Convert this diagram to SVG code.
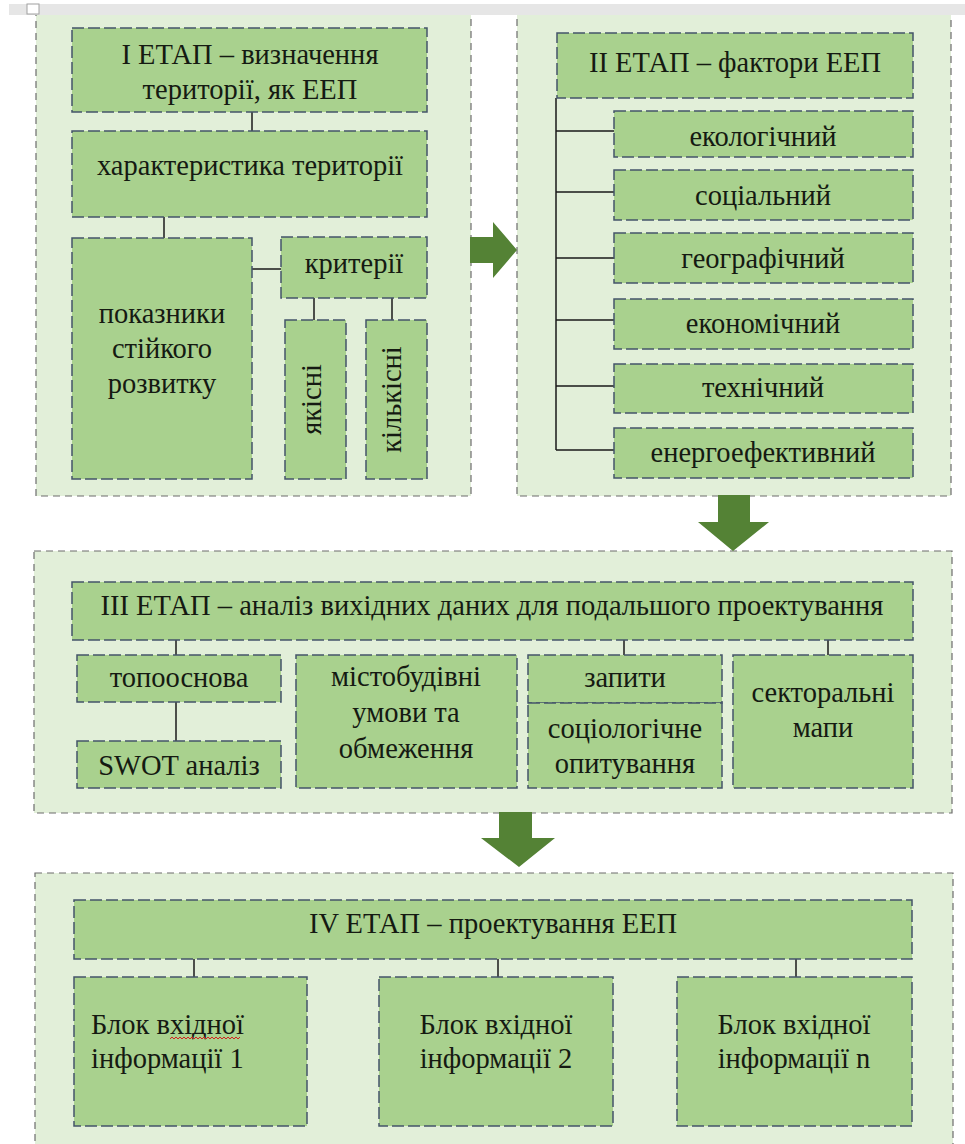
<svg xmlns="http://www.w3.org/2000/svg" width="965" height="1144" viewBox="0 0 965 1144">
  <style>
    .panel { fill:#e2efd9; stroke:#6d6d6d; stroke-width:1.2; stroke-dasharray:7 5; }
    .box { fill:#a9d18e; stroke:#44546a; stroke-width:1.5; stroke-dasharray:12 4; }
    .t { font-family:"Liberation Serif", "DejaVu Serif", serif; font-size:28.5px; fill:#151a12; text-anchor:middle; }
    .tl { text-anchor:start; }
    .link { stroke:#1a1a1a; stroke-width:1.5; fill:none; }
    .arrow { fill:#548235; }
  </style>
  <rect x="0" y="0" width="965" height="1144" fill="#ffffff"/>

  <!-- stage containers -->
  <g id="panel-stage1"><rect class="panel" x="36" y="10" width="435" height="486"/></g>
  <g id="panel-stage2"><rect class="panel" x="517" y="10" width="434" height="486"/></g>
  <g id="panel-stage3"><rect class="panel" x="34" y="551" width="918" height="262"/></g>
  <g id="panel-stage4"><rect class="panel" x="35" y="873" width="918" height="290"/></g>

  <!-- page strip at the top -->
  <rect x="9" y="4" width="956" height="11" fill="#e6e6e6"/>
  <rect x="27" y="4" width="12" height="10" fill="#ffffff" stroke="#a0a0a0" stroke-width="1"/>

  <!-- connectors -->
  <g id="connectors">
    <line class="link" x1="252" y1="112" x2="252" y2="131"/>
    <line class="link" x1="164" y1="217" x2="164" y2="238"/>
    <line class="link" x1="252" y1="269" x2="281" y2="269"/>
    <line class="link" x1="314" y1="298" x2="314" y2="320"/>
    <line class="link" x1="392" y1="298" x2="392" y2="320"/>
    <path class="link" d="M556 98 V450 M556 131 H614 M556 192 H614 M556 258 H614 M556 320 H614 M556 386 H614 M556 450 H614"/>
    <line class="link" x1="176" y1="640" x2="176" y2="655"/>
    <line class="link" x1="176" y1="702" x2="176" y2="741"/>
    <line class="link" x1="624" y1="640" x2="624" y2="655"/>
    <line class="link" x1="828" y1="640" x2="828" y2="666"/>
    <line class="link" x1="194" y1="959" x2="194" y2="977"/>
    <line class="link" x1="498" y1="959" x2="498" y2="977"/>
    <line class="link" x1="796" y1="959" x2="796" y2="977"/>
  </g>

  <!-- stage 1 -->
  <g id="stage1-title">
    <rect class="box" x="72" y="28" width="355" height="84"/>
    <text class="t" x="250" y="64">I ЕТАП – визначення</text>
    <text class="t" x="250" y="99">території, як ЕЕП</text>
  </g>
  <g id="territory">
    <rect class="box" x="72" y="131" width="355" height="86"/>
    <text class="t" x="250" y="175">характеристика території</text>
  </g>
  <g id="indicators">
    <rect class="box" x="72" y="238" width="180" height="241"/>
    <text class="t" x="162" y="323">показники</text>
    <text class="t" x="162" y="358">стійкого</text>
    <text class="t" x="162" y="393">розвитку</text>
  </g>
  <g id="criteria">
    <rect class="box" x="281" y="237" width="146" height="61"/>
    <text class="t" x="354" y="273">критерії</text>
  </g>
  <g id="qualitative">
    <rect class="box" x="285" y="320" width="61" height="159"/>
    <text class="t" transform="translate(321 399.5) rotate(-90)" x="0" y="0">якісні</text>
  </g>
  <g id="quantitative">
    <rect class="box" x="366" y="320" width="61" height="159"/>
    <text class="t" transform="translate(401 399.5) rotate(-90)" x="0" y="0">кількісні</text>
  </g>

  <!-- stage 2 -->
  <g id="stage2-title">
    <rect class="box" x="557" y="33" width="356" height="65"/>
    <text class="t" x="735" y="72">II ЕТАП – фактори ЕЕП</text>
  </g>
  <g id="f-ecological">
    <rect class="box" x="614" y="111" width="299" height="46"/>
    <text class="t" x="763" y="146">екологічний</text>
  </g>
  <g id="f-social">
    <rect class="box" x="614" y="170" width="299" height="50"/>
    <text class="t" x="763" y="205">соціальний</text>
  </g>
  <g id="f-geographic">
    <rect class="box" x="614" y="233" width="299" height="50"/>
    <text class="t" x="763" y="268">географічний</text>
  </g>
  <g id="f-economic">
    <rect class="box" x="614" y="299" width="299" height="50"/>
    <text class="t" x="763" y="333">економічний</text>
  </g>
  <g id="f-technical">
    <rect class="box" x="614" y="364" width="299" height="49"/>
    <text class="t" x="763" y="397">технічний</text>
  </g>
  <g id="f-energy">
    <rect class="box" x="614" y="428" width="299" height="50"/>
    <text class="t" x="763" y="462">енергоефективний</text>
  </g>

  <!-- stage 3 -->
  <g id="stage3-title">
    <rect class="box" x="72" y="582" width="841" height="58"/>
    <text class="t" x="492" y="615">III ЕТАП – аналіз вихідних даних для подальшого проектування</text>
  </g>
  <g id="topo">
    <rect class="box" x="77" y="655" width="204" height="47"/>
    <text class="t" x="179" y="687">топооснова</text>
  </g>
  <g id="swot">
    <rect class="box" x="77" y="741" width="204" height="47"/>
    <text class="t" x="179" y="775">SWOT аналіз</text>
  </g>
  <g id="urban">
    <rect class="box" x="296" y="655" width="221" height="133"/>
    <text class="t" x="406" y="686">містобудівні</text>
    <text class="t" x="406" y="722">умови та</text>
    <text class="t" x="406" y="758">обмеження</text>
  </g>
  <g id="requests">
    <rect class="box" x="528" y="655" width="194" height="48"/>
    <text class="t" x="625" y="687">запити</text>
  </g>
  <g id="survey">
    <rect class="box" x="528" y="703" width="194" height="85"/>
    <text class="t" x="625" y="738">соціологічне</text>
    <text class="t" x="625" y="773">опитування</text>
  </g>
  <g id="sector-maps">
    <rect class="box" x="733" y="655" width="180" height="133"/>
    <text class="t" x="823" y="702">секторальні</text>
    <text class="t" x="823" y="737">мапи</text>
  </g>

  <!-- stage 4 -->
  <g id="stage4-title">
    <rect class="box" x="74" y="900" width="838" height="59"/>
    <text class="t" x="493" y="933">IV ЕТАП – проектування ЕЕП</text>
  </g>
  <g id="block1">
    <rect class="box" x="74" y="977" width="233" height="149"/>
    <text class="t tl" x="91" y="1034">Блок вхідної</text>
    <text class="t tl" x="91" y="1068">інформації 1</text>
    <path d="M170 1039 l2 -2 l2 2 l2 -2 l2 2 l2 -2 l2 2 l2 -2 l2 2 l2 -2 l2 2 l2 -2 l2 2 l2 -2 l2 2 l2 -2 l2 2 l2 -2 l2 2 l2 -2 l2 2 l2 -2 l2 2 l2 -2 l2 2 l2 -2 l2 2 l2 -2 l2 2 l2 -2 l2 2 l2 -2 l2 2 l2 -2 l2 2 l2 -2" fill="none" stroke="#d42020" stroke-width="1"/>
  </g>
  <g id="block2">
    <rect class="box" x="379" y="977" width="234" height="149"/>
    <text class="t" x="496" y="1034">Блок вхідної</text>
    <text class="t" x="496" y="1068">інформації 2</text>
  </g>
  <g id="blockn">
    <rect class="box" x="677" y="977" width="235" height="149"/>
    <text class="t" x="794" y="1034">Блок вхідної</text>
    <text class="t" x="794" y="1068">інформації n</text>
  </g>

  <!-- flow arrows between stages -->
  <g id="arrows">
    <polygon class="arrow" points="470,237 493,237 493,222 517,250 493,278 493,263 470,263"/>
    <polygon class="arrow" points="718,495 750,495 750,522 769,522 733,551 698,522 718,522"/>
    <polygon class="arrow" points="499,812 532,812 532,838 555,838 519,867 481,838 499,838"/>
  </g>
</svg>
